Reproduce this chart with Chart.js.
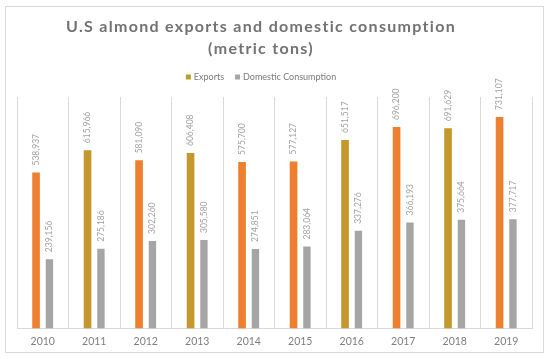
<!DOCTYPE html>
<html>
<head>
<meta charset="utf-8">
<script src="https://cdn.jsdelivr.net/npm/chart.js@4.4.1/dist/chart.umd.min.js"></script>
<style>
  html, body { margin: 0; padding: 0; background: #fff; }
  #wrap { width: 550px; height: 359px; position: relative; }
</style>
</head>
<body>
<div id="wrap"><canvas id="almondChart"></canvas></div>
<script>
// data
const years = ['2010', '2011', '2012', '2013', '2014', '2015', '2016', '2017', '2018', '2019'];
const exportsTons = [538937, 615966, 581090, 606408, 575700, 577127, 651517, 696200, 691629, 731107];
const domesticTons = [239156, 275186, 302260, 305580, 274851, 283064, 337276, 366193, 375664, 377717];
const titleLines = ['U.S almond exports and domestic consumption', '(metric tons)'];

// the export bars alternate between orange and a gold tint in the original
const orange = '#EE7F2F';
const gold = '#C4982C';
const exportColors = [orange, gold, orange, gold, orange, orange, gold, orange, gold, orange];
const legendColors = ['#B3A322', '#A5A5A5'];

// the original title/legend sit a little left of the plot centre
const headerCenter = 261;

// title + legend + frame drawn by hand (letter spacing, exact placement)
const headerPlugin = {
    id: 'header',
    afterDraw(chart) {
        const ctx = chart.ctx;
        ctx.save();
        ctx.strokeStyle = '#d9d9d9';
        ctx.lineWidth = 1;
        ctx.strokeRect(5.5, 6.5, 538, 346);

        ctx.fillStyle = '#727272';
        ctx.font = 'bold 16px Lato';
        ctx.letterSpacing = '1.3px';
        ctx.textAlign = 'center';
        ctx.textBaseline = 'middle';
        ctx.fillText(titleLines[0], headerCenter, 27);
        ctx.fillText(titleLines[1], headerCenter, 49);

        // legend
        ctx.letterSpacing = '0px';
        ctx.font = '9px Lato';
        ctx.textAlign = 'left';
        const labels = chart.data.datasets.map(d => d.label);
        const box = 5, boxGap = 3, itemGap = 11;
        const widths = labels.map(t => box + boxGap + ctx.measureText(t).width);
        const total = widths.reduce((a, b) => a + b, 0) + itemGap * (labels.length - 1);
        let x = headerCenter - total / 2;
        const y = 77;
        labels.forEach((t, i) => {
            ctx.fillStyle = legendColors[i];
            ctx.fillRect(x, y - box / 2, box, box);
            ctx.fillStyle = '#7a7a7a';
            ctx.fillText(t, x + box + boxGap, y);
            x += widths[i] + itemGap;
        });
        ctx.restore();
    }
};

// vertical value labels above each bar
const barLabels = {
    id: 'barLabels',
    afterDatasetsDraw(chart) {
        const ctx = chart.ctx;
        ctx.save();
        ctx.font = '8.5px Lato';
        ctx.fillStyle = '#a3a3a3';
        ctx.textAlign = 'left';
        ctx.textBaseline = 'middle';
        chart.data.datasets.forEach((ds, i) => {
            const meta = chart.getDatasetMeta(i);
            meta.data.forEach((bar, j) => {
                ctx.save();
                ctx.translate(bar.x, bar.y - 7);
                ctx.rotate(-Math.PI / 2);
                ctx.fillText(ds.data[j].toLocaleString('en-US'), 0, 0);
                ctx.restore();
            });
        });
        ctx.restore();
    }
};

const ctx = document.getElementById('almondChart');
new Chart(ctx, {
    type: 'bar',
    data: {
        labels: years,
        datasets: [{
            label: 'Exports',
            data: exportsTons,
            backgroundColor: exportColors,
            categoryPercentage: 0.52,
            barPercentage: 0.57
        }, {
            label: 'Domestic Consumption',
            data: domesticTons,
            backgroundColor: '#A5A5A5',
            categoryPercentage: 0.52,
            barPercentage: 0.55
        }]
    },
    options: {
        responsive: true,
        maintainAspectRatio: false,
        animation: false,
        layout: {
            padding: { top: 97, left: 17, right: 18, bottom: 4 }
        },
        plugins: {
            title: { display: false },
            legend: { display: false },
            tooltip: { enabled: false }
        },
        scales: {
            x: {
                grid: {
                    color: '#d9d9d9',
                    drawTicks: false,
                    offset: true
                },
                border: { color: '#d9d9d9' },
                ticks: {
                    color: '#7f7f7f',
                    padding: 7,
                    font: { family: 'Lato', size: 10.5 }
                }
            },
            y: {
                display: false,
                min: 0,
                max: 800000
            }
        }
    },
    plugins: [headerPlugin, barLabels]
});
</script>
</body>
</html>
